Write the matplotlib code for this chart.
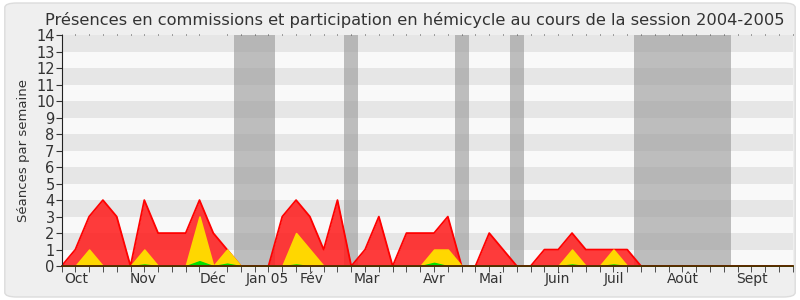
import matplotlib
matplotlib.use('Agg')
import matplotlib.pyplot as plt
from matplotlib.patches import FancyBboxPatch

# weekly counts, session 2004-2005 (week index 0..53)
weeks = list(range(54))
total = [0, 1, 3, 4, 3, 0, 4, 2, 2, 2, 4, 2, 1, 0, 0, 0, 3, 4, 3, 1,
         4, 0, 1, 3, 0, 2, 2, 2, 3, 0, 0, 2, 1, 0, 0, 1, 1, 2, 1, 1,
         1, 1, 0, 0, 0, 0, 0, 0, 0, 0, 0, 0, 0, 0]
commission = [0, 0, 1, 0, 0, 0, 1, 0, 0, 0, 3, 0, 1, 0, 0, 0, 0, 2, 1, 0,
              0, 0, 0, 0, 0, 0, 0, 1, 1, 0, 0, 0, 0, 0, 0, 0, 0, 1, 0, 0,
              1, 0, 0, 0, 0, 0, 0, 0, 0, 0, 0, 0, 0, 0]
interventions = [0, 0, 0, 0, 0, 0, 0.1, 0, 0, 0, 0.3, 0, 0.15, 0, 0, 0, 0, 0.1, 0, 0,
                 0, 0, 0, 0, 0, 0, 0, 0.2, 0, 0, 0, 0, 0, 0, 0, 0, 0, 0.1, 0, 0,
                 0.1, 0, 0, 0, 0, 0, 0, 0, 0, 0, 0, 0, 0, 0]

# parliamentary holidays (start, end) in weeks
holidays = [(12.5, 15.5), (20.5, 21.5), (28.5, 29.5), (32.5, 33.5), (41.5, 48.5)]

month_labels = ['Oct', 'Nov', 'Déc', 'Jan 05', 'Fév', 'Mar', 'Avr', 'Mai',
                'Juin', 'Juil', 'Août', 'Sept']
month_pos = [1.1, 5.9, 11.0, 14.9, 18.1, 22.1, 27.05, 31.15, 35.95, 40.05, 45.05, 50.05]

fig = plt.figure(figsize=(8, 3), dpi=100)
fig.patch.set_facecolor('white')
fig.patches.append(FancyBboxPatch((0.006, 0.01), 0.988, 0.98, boxstyle='round,pad=0,rounding_size=0.015',
                                  transform=fig.transFigure, facecolor='#efefef',
                                  edgecolor='#dcdcdc', linewidth=1, zorder=-10))
ax = fig.add_axes([0.0769, 0.113, 0.9141, 0.77])
ax.set_facecolor('#f9f9f9')

# alternating bands
for k in range(1, 14, 2):
    ax.axhspan(k, k + 1, color='#e6e6e6', zorder=0, lw=0)

for a, b in holidays:
    ax.axvspan(a, b, color='#999999', alpha=0.62, lw=0, zorder=1)

ax.fill_between(weeks, total, color='#ff2020', alpha=0.88, lw=0, zorder=2)
ax.plot(weeks, total, color='#ff0000', lw=1.3, zorder=3)
ax.fill_between(weeks, commission, color='#ffd700', lw=1.2, edgecolor='#ffd700', zorder=4)
ax.fill_between(weeks, interventions, color='#00e000', lw=1, edgecolor='#00e000', zorder=5)

ax.set_xlim(0, 53)
ax.set_ylim(0, 14)
ax.set_yticks(range(15))
ax.set_xticks(month_pos)
ax.set_xticklabels(month_labels)
ax.set_xticks(range(54), minor=True)
ax.tick_params(axis='x', which='major', length=0, labelsize=10, colors='#333333', pad=4)
ax.tick_params(axis='x', which='minor', length=4, color='#333333', top=True, bottom=True)
ax.tick_params(axis='y', labelsize=10.5, colors='#333333', length=4, pad=1)
for t in ax.xaxis.get_minor_ticks():
    t.tick2line.set_markersize(1)
    t.tick2line.set_color('#333333')

ax.spines['top'].set_visible(False)
ax.spines['right'].set_visible(False)
ax.spines['left'].set_color('#222222')
ax.spines['bottom'].set_color('#552200')
ax.spines['bottom'].set_linewidth(1.3)
for s in ax.spines.values():
    s.set_zorder(10)

ax.set_ylabel('Séances par semaine', fontsize=9.5, color='#333333', labelpad=4)
fig.text(0.518, 0.935, 'Présences en commissions et participation en hémicycle au cours de la session 2004-2005',
         ha='center', va='center', fontsize=11.7, color='#333333')

fig.savefig('out.png', dpi=100, facecolor=fig.get_facecolor())
